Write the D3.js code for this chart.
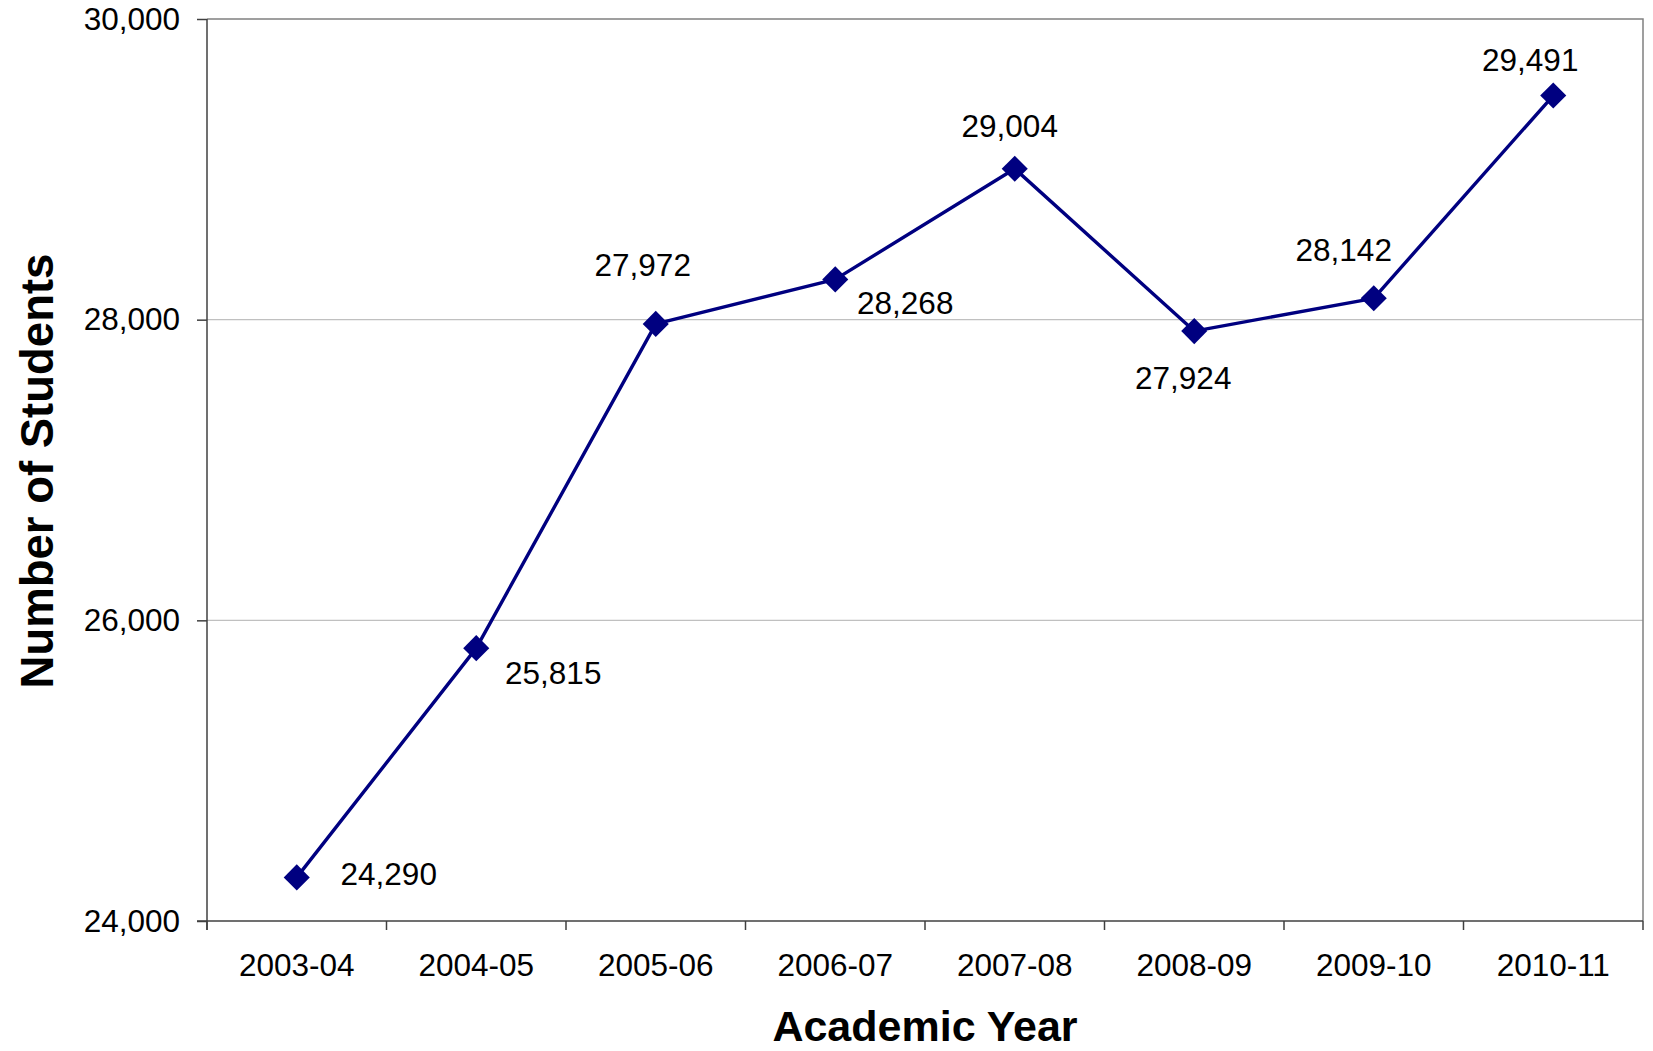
<!DOCTYPE html>
<html>
<head>
<meta charset="utf-8">
<script src="https://cdn.jsdelivr.net/npm/d3@7"></script>
<style>
  html, body { margin: 0; padding: 0; background: #fff; }
  svg { display: block; }
  text { font-family: "Liberation Sans", Arial, sans-serif; fill: #000; }
</style>
</head>
<body>
<svg id="chart" width="1653" height="1051"></svg>
<script>
// ---- data ----
const categories = ["2003-04", "2004-05", "2005-06", "2006-07", "2007-08", "2008-09", "2009-10", "2010-11"];
const students = [24290, 25815, 27972, 28268, 29004, 27924, 28142, 29491];
const yTickValues = [24000, 26000, 28000, 30000];
const xTitle = "Academic Year";
const yTitle = "Number of Students";
// data-label placement (offset of label centre / baseline from its point)
const labelDx = [92, 77, -13, 70, -5, -11, -30, -23];
const labelDy = [8, 36, -48, 35, -32, 58, -37, -25];

// ---- layout ----
const W = 1653, H = 1051;
const plot = { left: 207, right: 1643, top: 19, bottom: 921 };
const svg = d3.select("#chart");

const x = d3.scaleBand().domain(categories).range([plot.left, plot.right]).padding(0);
const y = d3.scaleLinear().domain([24000, 30000]).range([plot.bottom, plot.top]);
const fmt = d3.format(",");

// gridlines
svg.append("g")
  .selectAll("line")
  .data(yTickValues.filter(v => v > 24000 && v < 30000))
  .join("line")
  .attr("x1", plot.left).attr("x2", plot.right)
  .attr("y1", d => y(d)).attr("y2", d => y(d))
  .attr("stroke", "#c0c0c0").attr("stroke-width", 1.3);

// top & right border
svg.append("path")
  .attr("d", `M${plot.left},${plot.top}H${plot.right}V${plot.bottom}`)
  .attr("fill", "none").attr("stroke", "#808080").attr("stroke-width", 1.5);

// y axis
const yAxis = svg.append("g")
  .attr("transform", `translate(${plot.left},0)`)
  .call(d3.axisLeft(y).tickValues(yTickValues).tickFormat(fmt).tickSize(10).tickPadding(17));
yAxis.select(".domain").remove();
yAxis.selectAll(".tick line").attr("stroke", "#404040").attr("stroke-width", 1.5);
yAxis.selectAll(".tick text").style("font-size", "31.5px").style("font-family", "'Liberation Sans', Arial, sans-serif").attr("fill", "#000");

// left axis line
svg.append("line")
  .attr("x1", plot.left).attr("x2", plot.left)
  .attr("y1", plot.top).attr("y2", plot.bottom + 9)
  .attr("stroke", "#404040").attr("stroke-width", 1.5);

// x axis (labels)
const xAxis = svg.append("g")
  .attr("transform", `translate(0,${plot.bottom})`)
  .call(d3.axisBottom(x).tickSize(0).tickPadding(33));
xAxis.select(".domain").remove();
xAxis.selectAll(".tick text").style("font-size", "31.5px").style("font-family", "'Liberation Sans', Arial, sans-serif").attr("fill", "#000");

// bottom axis line
svg.append("line")
  .attr("x1", plot.left - 10).attr("x2", plot.right)
  .attr("y1", plot.bottom).attr("y2", plot.bottom)
  .attr("stroke", "#404040").attr("stroke-width", 1.5);

// x boundary ticks
const boundaries = categories.map(c => x(c)).concat([x(categories[categories.length - 1]) + x.bandwidth()]);
svg.append("g")
  .selectAll("line")
  .data(boundaries)
  .join("line")
  .attr("x1", d => d).attr("x2", d => d)
  .attr("y1", plot.bottom).attr("y2", plot.bottom + 9)
  .attr("stroke", "#404040").attr("stroke-width", 1.5);

// series
const pts = categories.map((c, i) => ({ c, v: students[i], i }));
const cx = d => x(d.c) + x.bandwidth() / 2;

svg.append("path")
  .datum(pts)
  .attr("d", d3.line().x(cx).y(d => y(d.v)))
  .attr("fill", "none").attr("stroke", "#000080").attr("stroke-width", 3.4)
  .attr("stroke-linejoin", "round");

svg.append("g")
  .selectAll("path")
  .data(pts)
  .join("path")
  .attr("d", d3.symbol(d3.symbolSquare, 340))
  .attr("transform", d => `translate(${cx(d)},${y(d.v)}) rotate(45)`)
  .attr("fill", "#000080");

// data labels
svg.append("g")
  .selectAll("text")
  .data(pts)
  .join("text")
  .attr("x", d => cx(d) + labelDx[d.i])
  .attr("y", d => y(d.v) + labelDy[d.i])
  .attr("text-anchor", "middle")
  .style("font-size", "31.5px")
  .text(d => fmt(d.v));

// axis titles
svg.append("text")
  .attr("x", (plot.left + plot.right) / 2)
  .attr("y", 1041)
  .attr("text-anchor", "middle")
  .style("font-size", "43px").style("font-weight", "bold")
  .text(xTitle);

svg.append("text")
  .attr("transform", `translate(53,${(plot.top + plot.bottom) / 2 + 1}) rotate(-90)`)
  .attr("text-anchor", "middle")
  .style("font-size", "45.5px").style("font-weight", "bold")
  .text(yTitle);
</script>
</body>
</html>
